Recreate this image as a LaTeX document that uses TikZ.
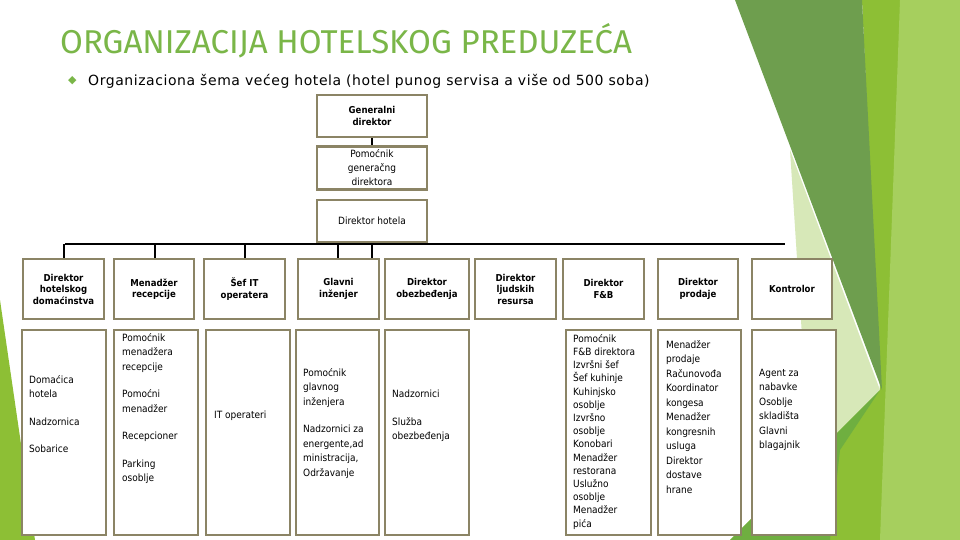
\documentclass[tikz,border=0pt]{standalone}
\usepackage{fontspec}
\setmainfont{DejaVu Sans Condensed}
\newfontfamily\titlefont{Fira Sans}
\newfontfamily\subfont[LetterSpace=4]{DejaVu Sans}
\newfontfamily\symfont{DejaVu Sans}
\begin{document}
\begin{tikzpicture}[x=1pt,y=-1pt,
  bx/.style={draw=boxc,line width=2.8pt,fill=white,inner sep=0pt},
  hd/.style={font=\bfseries\fontsize{9.5}{11.5}\selectfont,align=center,text width=76pt},
  tx/.style={font=\fontsize{10}{13.2}\selectfont,align=left,anchor=north west,inner sep=0pt},
  txg/.style={font=\fontsize{10}{14.5}\selectfont,align=left,anchor=north west,inner sep=0pt},
  ln/.style={line width=1.3pt,black}]
\definecolor{boxc}{HTML}{8B8465}
\definecolor{tgreen}{HTML}{7AB648}
\definecolor{g1}{HTML}{6E9E4E}
\definecolor{g2}{HTML}{8DBF35}
\definecolor{g3}{HTML}{D7E8B8}
\definecolor{g4}{HTML}{6FAF40}
\definecolor{g5}{HTML}{A6CF5E}
\useasboundingbox (0,0) rectangle (960,540);
\fill[white] (0,0) rectangle (960,540);
% decoration
\fill[g3] (790,150) -- (880,390) -- (810,460) -- cycle;
\fill[g2] (862,0) -- (960,0) -- (960,540) -- (730,540) -- (880,390) -- cycle;
\fill[g5] (900,0) -- (960,0) -- (960,540) -- (880,540) -- cycle;
\fill[g4] (880,390) -- (730,540) -- (830,540) -- (840,450) -- cycle;
\fill[g1] (735,0) -- (862,0) -- (882,390) -- cycle;
\fill[g2] (0,300) -- (35,540) -- (0,540) -- cycle;
% title
\node[anchor=west,font=\titlefont\fontsize{33}{36}\selectfont,text=tgreen,inner sep=0pt] (title) at (60,41) {ORGANIZACIJA HOTELSKOG PREDUZEĆA};
\node[anchor=west,font=\symfont\fontsize{11}{12}\selectfont,text=tgreen,inner sep=0pt] (bul) at (68,81) {◆};
\node[anchor=west,font=\subfont\fontsize{14}{16}\selectfont,inner sep=0pt] (sub) at (88,81) {Organizaciona šema većeg hotela (hotel punog servisa a više od 500 soba)};
% top chain
\node[bx,minimum width=110pt,minimum height=42pt,hd] (gd) at (372,116) {Generalni\\direktor};
\node[bx,minimum width=110pt,minimum height=43pt,font=\fontsize{10}{14}\selectfont,align=center] (pg) at (372,168) {Pomoćnik\\generačng\\direktora};
\node[bx,minimum width=110pt,minimum height=42pt,font=\fontsize{10}{14}\selectfont] (dh) at (372,221) {Direktor hotela};
\draw[ln] (gd.south) -- (pg.north);
\coordinate (l0) at (65,244);
\coordinate (l1) at (785,244);
\draw[ln] (l0) -- (l1);
% top row
\foreach \n/\xa/\xb/\t in {
 a/23/104/{Direktor\\hotelskog\\domaćinstva},
 b/114/194/{Menadžer\\recepcije},
 c/204/285/{Šef IT\\operatera},
 d/298/379/{Glavni\\inženjer},
 e/385/469/{Direktor\\obezbeđenja},
 f/475/556/{Direktor\\ljudskih\\resursa},
 g/563/644/{Direktor\\F\&B},
 h/658/738/{Direktor\\prodaje},
 i/752/832/{Kontrolor}}{
 \node[bx,hd,minimum width={\xb-\xa},minimum height=60pt] (\n) at ({(\xa+\xb)/2},289) {\t};
}
\foreach \n/\x in {a/64,b/155,c/245,d/338}{
 \coordinate (s\n) at (\x,244);
 \draw[ln] (s\n) -- (s\n |- \n.north);
}
\draw[ln] (dh.south) -- (dh.south |- d.north);
% bottom row boxes
\foreach \n/\xa/\xb in {A/22/106,B/114/198,C/206/290,D/296/379,E/385/469,G/566/651,H/658/741,I/752/836}{
 \node[bx,minimum width={\xb-\xa},minimum height=205pt] (\n) at ({(\xa+\xb)/2},432.5) {};
}
\node[txg] (tA) at (29,375) {Domaćica\\hotela\\[13pt]Nadzornica\\[13pt]Sobarice};
\node[txg] (tB) at (122,333) {Pomoćnik\\menadžera\\recepcije\\[13pt]Pomoćni\\menadžer\\[13pt]Recepcioner\\[13pt]Parking\\osoblje};
\node[txg] (tC) at (214,411) {IT operateri};
\node[txg] (tD) at (303,368) {Pomoćnik\\glavnog\\inženjera\\[13pt]Nadzornici za\\energente,ad\\ministracija,\\Održavanje};
\node[txg] (tE) at (392,390) {Nadzornici\\[13pt]Služba\\obezbeđenja};
\node[tx] (tG) at (573,334) {Pomoćnik\\F\&B direktora\\Izvršni šef\\Šef kuhinje\\Kuhinjsko\\osoblje\\Izvršno\\osoblje\\Konobari\\Menadžer\\restorana\\Uslužno\\osoblje\\Menadžer\\pića};
\node[txg] (tH) at (666,340) {Menadžer\\prodaje\\Računovođa\\Koordinator\\kongesa\\Menadžer\\kongresnih\\usluga\\Direktor\\dostave\\hrane};
\node[txg] (tI) at (759,369) {Agent za\\nabavke\\Osoblje\\skladišta\\Glavni\\blagajnik};
\end{tikzpicture}
\end{document}
